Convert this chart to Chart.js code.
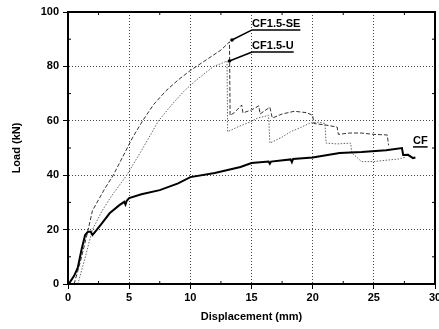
<!DOCTYPE html>
<html>
<head>
<meta charset="utf-8">
<script src="https://cdn.jsdelivr.net/npm/chart.js@4/dist/chart.umd.min.js"></script>
<style>
  html, body { margin: 0; padding: 0; background: #fff; overflow: hidden; }
  #wrap { width: 445px; height: 329px; position: relative; }
</style>
</head>
<body>
<div id="wrap"><canvas id="chart"></canvas></div>
<script>
// series names, as printed next to the curves
const seriesNames = ['CF', 'CF1.5-SE', 'CF1.5-U'];

// axis ticks
const xTickValues = [0, 5, 10, 15, 20, 25, 30];
const yTickValues = [0, 20, 40, 60, 80, 100];

// CF - plain specimen (thick solid)
const cfX = [0, 0.16, 0.5, 0.8, 1.1, 1.4, 1.6, 1.85, 2.0, 2.2, 2.8, 3.4, 4.2, 4.6, 4.7, 4.8, 5.0, 6.0, 7.5, 9.0, 10.0, 12.0, 14.1, 15.0,
  16.4, 16.5, 16.6, 18.2, 18.3, 18.4, 20.0, 22.2, 24.0, 26.0, 27.3, 27.4, 27.8, 28.2, 28.4];
const cfY = [0, 0.7, 3, 6, 12.5, 18, 19.1, 19.3, 18, 19.1, 22.5, 26, 29, 30.2, 29.2, 30.6, 31.6, 33, 34.5, 37, 39.3, 40.8, 43, 44.5,
  45, 44.2, 45, 45.8, 44.8, 46, 46.5, 48.2, 48.5, 49.2, 50, 47.4, 47.5, 46.3, 46.5];

// CF1.5-SE (dashed)
const seX = [0.5, 1.0, 1.6, 2.0, 2.5, 3.0, 3.7, 4.5, 5.3, 6.1, 7.0, 8.0, 9.0, 10.0, 10.5, 11.5, 12.5, 13.2,
  13.25, 13.6, 14.2, 14.3, 15.0, 15.6, 15.7, 16.5, 16.7, 17.5, 18.5, 19.5, 20.0, 20.1, 21.0, 22.0, 22.1, 23.0, 24.0, 25.0, 26.1, 26.2];
const seY = [0, 8, 19, 27, 31, 35, 40, 47, 54, 60, 66, 71, 75, 78.5, 80, 83, 86, 89,
  62, 63, 65.8, 62.9, 64, 65.5, 62.5, 65, 61, 62.5, 63.5, 63, 62, 59, 58.5, 57.7, 55, 55.5, 55.5, 55, 54.8, 51];

// CF1.5-U (dotted)
const uX = [0.8, 1.3, 2.0, 2.8, 3.5, 4.8, 6.0, 7.4, 8.5, 9.5, 10.5, 11.9, 12.5, 13.0,
  13.05, 14.0, 14.9, 15.5, 16.4, 16.5, 17.5, 18.2, 19.0, 19.8, 20.5, 21.0, 21.1, 22.0, 23.1, 23.2, 24.0, 25.0, 26.0, 27.1, 27.6];
const uY = [0, 8, 20, 27, 32, 40, 49, 60, 66, 71, 75, 80, 81, 82,
  56, 58, 59.6, 61, 62, 51.8, 54, 56, 57.5, 59.2, 59.5, 59, 51.8, 51.5, 51.8, 48.2, 45, 45, 45.5, 46, 46.7];

const toPoints = (xs, ys) => xs.map((x, i) => ({ x: x, y: ys[i] }));

const tickFont = { family: 'Liberation Sans, Arial, sans-serif', size: 11, weight: 'bold' };

// curve labels: text anchor and leader start, in data units
const curveLabels = [
  { text: seriesNames[1], x: 15.05, y: 93.4, from: [13.4, 89.7] },
  { text: seriesNames[2], x: 15.05, y: 85.3, from: [13.2, 82] },
  { text: seriesNames[0], x: 28.2, y: 50.4, from: null }
];

// frame, minor ticks and curve labels
const decorPlugin = {
  id: 'decor',
  afterDatasetsDraw(chart) {
    const ctx = chart.ctx;
    const a = chart.chartArea;
    const xs = chart.scales.x, ys = chart.scales.y;
    ctx.save();
    ctx.strokeStyle = '#000';
    ctx.lineWidth = 2;
    ctx.strokeRect(a.left, a.top, a.right - a.left, a.bottom - a.top);

    // minor ticks, inward
    ctx.lineWidth = 1;
    ctx.beginPath();
    for (let i = 0; i < xTickValues.length - 1; i++) {
      const px = xs.getPixelForValue((xTickValues[i] + xTickValues[i + 1]) / 2);
      ctx.moveTo(px, a.bottom); ctx.lineTo(px, a.bottom - 3);
      ctx.moveTo(px, a.top); ctx.lineTo(px, a.top + 3);
    }
    for (let i = 0; i < yTickValues.length - 1; i++) {
      const py = ys.getPixelForValue((yTickValues[i] + yTickValues[i + 1]) / 2);
      ctx.moveTo(a.left, py); ctx.lineTo(a.left + 3, py);
      ctx.moveTo(a.right, py); ctx.lineTo(a.right - 3, py);
    }
    ctx.stroke();

    // labels
    ctx.font = 'bold 11px Liberation Sans, Arial, sans-serif';
    ctx.fillStyle = '#000';
    ctx.textBaseline = 'alphabetic';
    curveLabels.forEach(l => {
      const px = xs.getPixelForValue(l.x), py = ys.getPixelForValue(l.y);
      const w = ctx.measureText(l.text).width;
      ctx.fillText(l.text, px, py - 3);
      ctx.lineWidth = 1.5;
      ctx.beginPath();
      ctx.moveTo(px, py); ctx.lineTo(px + w, py);
      if (l.from) {
        const fx = xs.getPixelForValue(l.from[0]), fy = ys.getPixelForValue(l.from[1]);
        ctx.moveTo(px, py); ctx.lineTo(fx, fy);
      }
      ctx.stroke();
      if (l.from) {
        ctx.beginPath();
        ctx.arc(xs.getPixelForValue(l.from[0]), ys.getPixelForValue(l.from[1]), 1.8, 0, Math.PI * 2);
        ctx.fill();
      }
    });
    ctx.restore();
  }
};

new Chart(document.getElementById('chart'), {
  type: 'line',
  data: {
    datasets: [
      { label: seriesNames[0], data: toPoints(cfX, cfY), borderColor: '#000', borderWidth: 2 },
      { label: seriesNames[1], data: toPoints(seX, seY), borderColor: '#333', borderWidth: 1, borderDash: [4, 2] },
      { label: seriesNames[2], data: toPoints(uX, uY), borderColor: '#666', borderWidth: 1, borderDash: [1.5, 1.5] }
    ]
  },
  options: {
    responsive: true,
    maintainAspectRatio: false,
    animation: false,
    layout: { padding: { left: 0, right: 10, top: 12, bottom: 0 } },
    elements: { point: { radius: 0 }, line: { tension: 0 } },
    plugins: { legend: { display: false }, tooltip: { enabled: false } },
    scales: {
      x: {
        type: 'linear', min: 0, max: 30,
        afterBuildTicks: s => { s.ticks = xTickValues.map(v => ({ value: v })); },
        afterFit: s => { s.height = 45; },
        ticks: { font: tickFont, color: '#000', padding: 2, maxRotation: 0 },
        grid: { color: '#444', lineWidth: 1, tickLength: 5, tickColor: '#000' },
        border: { display: true, color: '#000', width: 2, dash: [1, 2] },
        title: { display: true, text: 'Displacement (mm)', font: tickFont, color: '#000', padding: { top: 0, bottom: 5 } }
      },
      y: {
        type: 'linear', min: 0, max: 100,
        afterBuildTicks: s => { s.ticks = yTickValues.map(v => ({ value: v })); },
        afterFit: s => { s.width = 68; },
        ticks: { font: tickFont, color: '#000', padding: 4 },
        grid: { color: '#444', lineWidth: 1, tickLength: 5, tickColor: '#000' },
        border: { display: true, color: '#000', width: 2, dash: [1, 2] },
        title: { display: true, text: 'Load (kN)', font: tickFont, color: '#000', padding: { top: 10, bottom: 0 } }
      }
    }
  },
  plugins: [decorPlugin]
});
</script>
</body>
</html>
